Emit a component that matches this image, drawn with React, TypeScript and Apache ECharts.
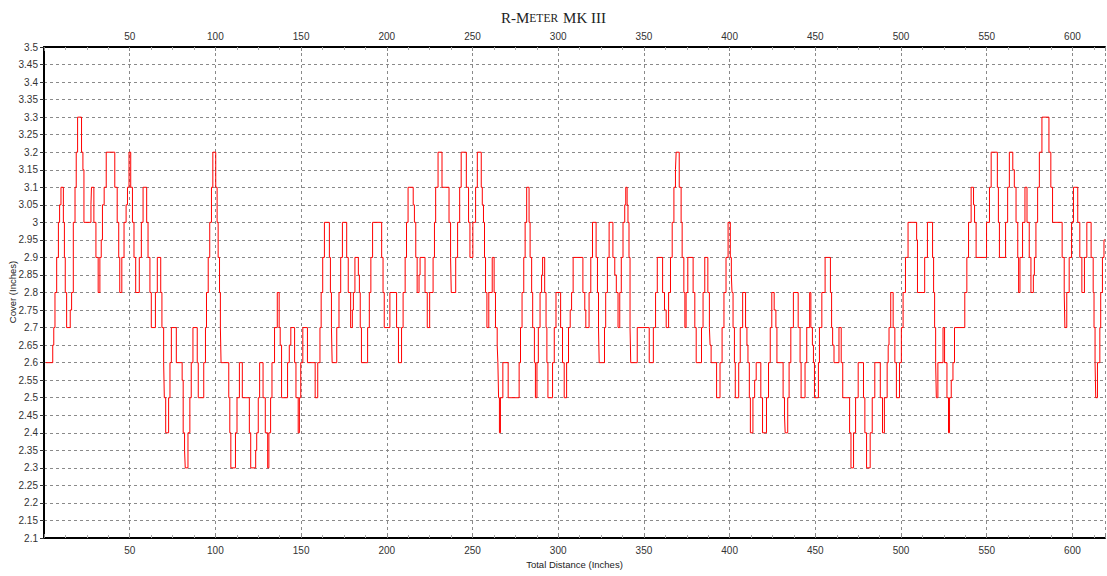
import React, { useEffect, useRef } from "react";
import * as echarts from "echarts";

// Start of each constant-cover run along the scan (inches)
const distance: number[] = [
  1, 5.1, 5.7, 6.4, 7.4, 8.4, 9.1, 9.9, 11.3, 11.9, 12.4, 13.2, 15.3, 16.1, 17.1, 18.1, 18.8, 19.6, 21.9, 22.7,
  23.3, 27.4, 27.7, 29.1, 30.3, 31.6, 32.6, 33.4, 34.1, 35.1, 36.3, 41.3, 42.7, 43.6, 44.2, 45.4, 46.7, 47.9, 48.7, 49.6,
  50.6, 51.6, 52.5, 53.5, 55.6, 56.8, 57.8, 59.9, 60.7, 61.8, 62.6, 65.0, 66.1, 68.1, 68.8, 69.8, 70.2, 71.0, 72.7, 73.5,
  74.3, 77.2, 80.6, 81.2, 82.0, 82.4, 84.0, 85.1, 85.9, 86.9, 89.4, 90.0, 93.2, 94.2, 94.8, 95.8, 96.7, 97.7, 98.5, 100.2,
  101.0, 101.6, 102.4, 102.9, 103.3, 107.8, 108.4, 109.0, 111.7, 112.6, 114.0, 115.7, 119.8, 120.6, 123.5, 124.1, 125.0, 125.8, 127.8, 129.1,
  130.5, 131.2, 132.2, 133.0, 134.5, 136.1, 137.2, 137.8, 138.6, 142.1, 143.1, 144.0, 146.2, 147.0, 148.3, 149.0, 149.8, 151.0, 153.7, 158.2,
  159.7, 161.0, 161.7, 162.6, 163.6, 166.5, 167.1, 167.7, 168.1, 170.8, 172.1, 173.1, 174.1, 176.6, 177.5, 178.9, 179.9, 180.5, 181.4, 183.4,
  184.0, 184.5, 185.2, 188.8, 189.8, 190.7, 191.7, 197.0, 197.8, 198.5, 201.8, 205.7, 206.8, 208.6, 209.5, 210.7, 211.5, 212.4, 215.4, 216.1,
  216.9, 217.7, 218.8, 219.4, 222.3, 223.6, 225.0, 227.0, 227.8, 228.5, 229.9, 232.2, 236.3, 237.2, 237.6, 240.2, 241.3, 242.5, 243.4, 246.4,
  247.7, 248.5, 250.2, 251.8, 252.8, 255.1, 255.7, 256.4, 257.0, 257.6, 258.4, 259.5, 261.5, 262.6, 263.4, 264.4, 264.8, 265.2, 265.7, 266.3,
  267.7, 270.8, 277.2, 278.0, 278.9, 279.9, 280.7, 281.6, 283.0, 283.6, 284.5, 285.1, 286.1, 286.7, 287.6, 288.4, 289.4, 290.3, 290.9, 292.1,
  292.9, 293.4, 294.0, 296.7, 297.7, 298.7, 301.4, 302.5, 303.5, 304.9, 306.0, 307.0, 307.8, 308.7, 314.4, 315.5, 316.1, 318.0, 319.0, 320.0,
  322.1, 322.9, 323.5, 323.9, 327.0, 327.7, 328.7, 329.7, 331.9, 333.0, 333.9, 334.9, 335.9, 336.8, 337.8, 338.8, 339.4, 340.2, 340.7, 341.3,
  341.9, 342.3, 346.1, 353.1, 355.5, 356.8, 357.8, 360.9, 362.0, 363.0, 364.4, 365.5, 366.5, 367.5, 368.4, 368.8, 370.6, 371.7, 372.3, 373.3,
  373.9, 374.6, 375.6, 378.7, 379.7, 380.5, 383.6, 384.5, 385.5, 387.3, 388.2, 388.6, 389.2, 392.4, 394.4, 395.6, 396.7, 397.9, 399.1, 400.4,
  401.0, 401.4, 402.0, 402.8, 403.3, 405.3, 406.2, 407.6, 409.3, 410.1, 410.7, 411.5, 412.1, 413.6, 414.6, 415.5, 418.2, 419.2, 421.5, 422.7,
  423.7, 424.6, 426.0, 427.0, 427.6, 431.2, 432.0, 432.4, 433.9, 434.7, 435.7, 437.2, 440.0, 441.1, 441.7, 444.0, 445.0, 446.7, 447.4, 448.3,
  448.9, 449.5, 451.8, 452.4, 453.8, 455.7, 458.8, 459.5, 460.1, 460.9, 463.8, 465.1, 466.0, 470.0, 470.8, 472.3, 473.5, 475.0, 478.1, 478.9,
  479.9, 482.0, 483.2, 484.7, 487.9, 489.2, 490.3, 491.9, 492.5, 493.0, 494.0, 495.4, 496.4, 497.3, 499.1, 500.2, 501.2, 502.6, 504.1, 509.1,
  509.6, 513.8, 515.4, 518.4, 519.0, 519.6, 520.2, 520.6, 521.5, 524.5, 525.4, 526.8, 527.7, 528.3, 529.3, 530.3, 531.2, 537.2, 538.4, 539.4,
  540.9, 542.3, 542.9, 543.8, 549.9, 551.6, 552.6, 556.2, 556.8, 557.4, 561.0, 562.2, 563.2, 565.2, 566.1, 567.1, 568.1, 568.6, 569.4, 570.9,
  572.3, 573.5, 574.8, 575.8, 577.2, 577.8, 578.7, 579.7, 580.7, 582.2, 586.3, 587.4, 588.4, 594.0, 595.2, 595.6, 596.7, 598.1, 599.5, 600.6,
  603.1, 604.3, 605.5, 607.0, 608.4, 610.9, 612.1, 612.6, 613.2, 613.6, 614.6, 616.0, 616.5, 617.5, 618.4, 619,
];

// Cover reading for each run (inches)
const cover: number[] = [
  2.6, 2.65, 2.7, 2.8, 2.9, 3.0, 3.05, 3.1, 3.0, 2.9, 2.8, 2.7, 2.75, 2.8, 3.0, 3.1, 3.2, 3.3, 3.2, 3.15,
  3.0, 3.05, 3.1, 3.0, 2.9, 2.8, 2.9, 2.95, 3.05, 3.1, 3.2, 3.1, 3.0, 2.9, 2.8, 2.9, 3.0, 3.05, 3.1, 3.2,
  3.1, 3.0, 2.9, 2.8, 2.9, 3.0, 3.1, 3.0, 2.9, 2.8, 2.7, 2.8, 2.9, 2.8, 2.7, 2.6, 2.5, 2.4, 2.5, 2.6,
  2.7, 2.6, 2.55, 2.4, 2.35, 2.3, 2.4, 2.5, 2.6, 2.7, 2.6, 2.5, 2.6, 2.7, 2.8, 2.9, 3.0, 3.1, 3.2, 3.1,
  3.0, 2.9, 2.8, 2.7, 2.6, 2.5, 2.4, 2.3, 2.4, 2.5, 2.6, 2.5, 2.4, 2.3, 2.35, 2.4, 2.5, 2.6, 2.5, 2.4,
  2.3, 2.4, 2.5, 2.6, 2.7, 2.8, 2.7, 2.65, 2.5, 2.6, 2.65, 2.7, 2.6, 2.5, 2.4, 2.5, 2.6, 2.7, 2.6, 2.5,
  2.6, 2.7, 2.8, 2.9, 3.0, 2.9, 2.8, 2.7, 2.6, 2.7, 2.8, 2.9, 3.0, 2.9, 2.8, 2.7, 2.75, 2.8, 2.9, 2.85,
  2.8, 2.7, 2.6, 2.7, 2.8, 2.9, 3.0, 2.9, 2.8, 2.7, 2.8, 2.7, 2.6, 2.7, 2.8, 2.9, 3.0, 3.1, 3.05, 3.0,
  2.9, 2.8, 2.85, 2.9, 2.8, 2.7, 2.8, 2.9, 3.0, 3.1, 3.2, 3.1, 3.0, 2.9, 2.8, 2.9, 3.0, 3.1, 3.2, 3.1,
  3.0, 2.9, 3.0, 3.1, 3.2, 3.1, 3.05, 3.0, 2.9, 2.8, 2.7, 2.8, 2.9, 2.8, 2.7, 2.65, 2.6, 2.5, 2.4, 2.5,
  2.6, 2.5, 2.6, 2.7, 2.8, 2.9, 3.0, 3.1, 3.0, 2.9, 2.8, 2.7, 2.6, 2.5, 2.6, 2.7, 2.8, 2.85, 2.9, 2.8,
  2.7, 2.6, 2.5, 2.6, 2.7, 2.8, 2.7, 2.6, 2.5, 2.6, 2.7, 2.75, 2.8, 2.9, 2.8, 2.75, 2.7, 2.8, 2.9, 3.0,
  2.9, 2.8, 2.7, 2.6, 2.7, 2.8, 2.9, 3.0, 2.9, 2.85, 2.8, 2.7, 2.8, 2.9, 3.0, 3.05, 3.1, 3.05, 3.0, 2.9,
  2.7, 2.6, 2.7, 2.6, 2.7, 2.8, 2.9, 2.8, 2.75, 2.7, 2.8, 2.9, 3.0, 3.1, 3.15, 3.2, 3.1, 3.0, 2.9, 2.8,
  2.7, 2.8, 2.9, 2.8, 2.7, 2.6, 2.7, 2.8, 2.9, 2.8, 2.7, 2.65, 2.6, 2.5, 2.6, 2.7, 2.8, 2.9, 3.0, 2.9,
  2.85, 2.8, 2.7, 2.6, 2.5, 2.6, 2.7, 2.8, 2.7, 2.65, 2.6, 2.5, 2.4, 2.5, 2.55, 2.6, 2.5, 2.4, 2.5, 2.6,
  2.7, 2.8, 2.75, 2.7, 2.6, 2.5, 2.45, 2.4, 2.5, 2.6, 2.7, 2.8, 2.7, 2.6, 2.5, 2.6, 2.7, 2.8, 2.7, 2.65,
  2.6, 2.5, 2.6, 2.7, 2.8, 2.9, 2.8, 2.7, 2.65, 2.6, 2.7, 2.6, 2.5, 2.4, 2.3, 2.4, 2.5, 2.6, 2.5, 2.4,
  2.3, 2.4, 2.5, 2.6, 2.5, 2.4, 2.5, 2.6, 2.65, 2.7, 2.8, 2.7, 2.6, 2.5, 2.6, 2.7, 2.8, 2.9, 3.0, 2.95,
  2.8, 2.9, 3.0, 2.9, 2.8, 2.7, 2.6, 2.5, 2.6, 2.7, 2.6, 2.5, 2.4, 2.5, 2.55, 2.6, 2.7, 2.8, 2.9, 3.0,
  3.1, 3.05, 3.0, 2.9, 3.0, 3.1, 3.2, 3.1, 3.0, 2.9, 3.0, 3.1, 3.2, 3.15, 3.1, 3.0, 2.9, 2.8, 2.9, 3.0,
  3.1, 3.0, 2.9, 2.8, 2.85, 2.9, 3.0, 3.1, 3.2, 3.3, 3.2, 3.1, 3.0, 2.9, 2.8, 2.7, 2.8, 2.9, 3.0, 3.1,
  3.0, 2.9, 2.8, 2.9, 3.0, 2.9, 2.8, 2.7, 2.6, 2.5, 2.6, 2.7, 2.8, 2.9, 2.95, 2.95,
];

const xTickStep = 50;
const yTickStep = 0.05;
const yMin = 2.1;
const yMax = 3.5;
const xMin = 0;
const xMax = 619;

export default function App() {
  const ref = useRef<HTMLDivElement>(null);

  useEffect(() => {
    if (!ref.current) return;
    const chart = echarts.init(ref.current, null, { renderer: "svg" });
    const n = Math.min(distance.length, cover.length);
    const data: [number, number][] = [];
    for (let i = 0; i < n; i++) data.push([distance[i], cover[i]]);

    const labelStyle = {
      color: "#333",
      fontSize: 10,
      fontFamily: "Liberation Sans, Arial, sans-serif",
    };
    const gridLine = { show: true, lineStyle: { color: "#8a8a8a", type: [3, 3] as any, width: 1 } };
    const xFmt = (v: number) => (v > 0 && v % xTickStep === 0 ? String(v) : "");

    chart.setOption({
      animation: false,
      backgroundColor: "#fff",
      title: {
        text: "{a|R-M}{b|ETER} {a|MK III}",
        left: "center",
        top: 4,
        textStyle: {
          fontWeight: "normal",
          rich: {
            a: { fontSize: 15, fontWeight: "normal", color: "#222", fontFamily: "Liberation Serif, serif" },
            b: { fontSize: 11.5, fontWeight: "normal", color: "#222", fontFamily: "Liberation Serif, serif" },
          },
        },
      },
      graphic: [
        {
          type: "text",
          x: 12,
          y: 292,
          rotation: Math.PI / 2,
          style: {
            text: "Cover (Inches)",
            fill: "#222",
            fontSize: 9.5,
            fontFamily: "Liberation Sans, Arial, sans-serif",
            align: "center",
            verticalAlign: "middle",
          },
        },
      ],
      grid: { left: 44, right: 2, top: 47, bottom: 38, outerBoundsMode: "none", containLabel: false },
      xAxis: [
        {
          type: "value",
          position: "bottom",
          min: xMin,
          max: xMax,
          interval: xTickStep,
          name: "Total Distance (Inches)",
          nameLocation: "middle",
          nameGap: 20,
          nameTextStyle: { ...labelStyle, fontSize: 9.5, color: "#222" },
          axisLine: { show: true, onZero: false, lineStyle: { color: "#000", width: 2 } },
          axisTick: { show: true, inside: true, length: 4, lineStyle: { color: "#888" } },
          minorTick: { show: true, splitNumber: 4, length: 3, lineStyle: { color: "#aaa" } },
          axisLabel: { ...labelStyle, margin: 7, showMaxLabel: false, formatter: xFmt },
          splitLine: gridLine,
        },
        {
          type: "value",
          position: "top",
          min: xMin,
          max: xMax,
          interval: xTickStep,
          axisLine: { show: true, onZero: false, lineStyle: { color: "#000", width: 2 } },
          axisTick: { show: true, inside: true, length: 4, lineStyle: { color: "#888" } },
          minorTick: { show: true, splitNumber: 4, length: 3, lineStyle: { color: "#aaa" } },
          axisLabel: { ...labelStyle, margin: 6, showMaxLabel: false, formatter: xFmt },
          splitLine: { show: false },
        },
      ],
      yAxis: {
        type: "value",
        min: yMin,
        max: yMax,
        interval: yTickStep,
        axisLine: { show: true, onZero: false, lineStyle: { color: "#000", width: 2 } },
        axisTick: { show: true, length: 4, lineStyle: { color: "#333" } },
        axisLabel: {
          ...labelStyle,
          margin: 6,
          formatter: (v: number) => String(parseFloat(v.toFixed(2))),
        },
        splitLine: gridLine,
      },
      series: [
        {
          type: "line",
          step: "end",
          xAxisIndex: 0,
          data,
          symbol: "none",
          lineStyle: { color: "#ff0000", width: 1 },
          silent: true,
        },
      ],
    });

    return () => chart.dispose();
  }, []);

  return (
    <div
      ref={ref}
      style={{ position: "absolute", left: 0, top: 0, width: 1107, height: 576, background: "#fff" }}
    />
  );
}
